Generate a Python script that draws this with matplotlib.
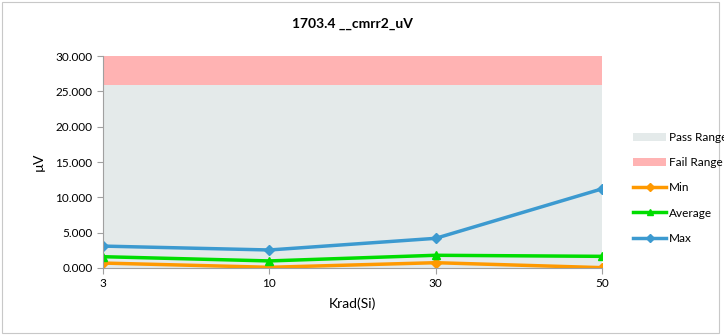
import numpy as np
import matplotlib.pyplot as plt
from matplotlib.patches import Rectangle

plt.rcParams['font.family'] = ['Lato', 'DejaVu Sans']

categories = ['3', '10', '30', '50']
min_vals = [0.70, 0.10, 0.75, 0.05]
avg_vals = [1.60, 1.00, 1.80, 1.65]
max_vals = [3.10, 2.55, 4.20, 11.20]
pass_limit = [25.9, 25.9, 25.9, 25.9]
fail_limit = [30.0, 30.0, 30.0, 30.0]

x = np.arange(len(categories))

fig = plt.figure(figsize=(7.24, 3.35), dpi=100)
ax = fig.add_axes([0.1423, 0.2, 0.6892, 0.6328])

pass_fill = ax.fill_between(x, 0, pass_limit, color='#E4EAEA', lw=0, label='Pass Range')
fail_fill = ax.fill_between(x, pass_limit, fail_limit, color='#FFB3B3', lw=0, label='Fail Range')
l1, = ax.plot(x, min_vals, color='#FF9900', lw=2.5, marker='D', ms=5, label='Min')
l2, = ax.plot(x, avg_vals, color='#00DD00', lw=2.5, marker='^', ms=6, label='Average')
l3, = ax.plot(x, max_vals, color='#3C9AD0', lw=2.5, marker='D', ms=5, label='Max')

ax.set_xlim(0, 3)
ax.set_ylim(0, 30)
ax.set_yticks(np.arange(0, 30.1, 5))
ax.set_yticklabels(['%.3f' % v for v in np.arange(0, 30.1, 5)])
ax.set_xticks(x)
ax.set_xticklabels(categories)
ax.tick_params(labelsize=8.5, length=4, color='#A0A0A0')
for s in ['top', 'right']:
    ax.spines[s].set_visible(False)
for s in ['left', 'bottom']:
    ax.spines[s].set_color('#A0A0A0')
ax.set_ylabel('µV', fontsize=10, labelpad=8)
ax.set_xlabel('Krad(Si)', fontsize=10, labelpad=6)
ax.set_title('1703.4 __cmrr2_uV', fontsize=10, fontweight='bold', pad=20)

fig.legend(handles=[pass_fill, fail_fill, l1, l2, l3], loc='upper left',
           bbox_to_anchor=(0.868, 0.62), frameon=False, fontsize=8.5,
           handlelength=2.8, labelspacing=1.2, handletextpad=0.2,
           borderaxespad=0, markerscale=0.8)

fig.patches.append(Rectangle((0.003, 0.006), 0.99, 0.988, transform=fig.transFigure,
                             fill=False, edgecolor='#C8C8C8', lw=0.8))

plt.savefig('out.png', dpi=100)
